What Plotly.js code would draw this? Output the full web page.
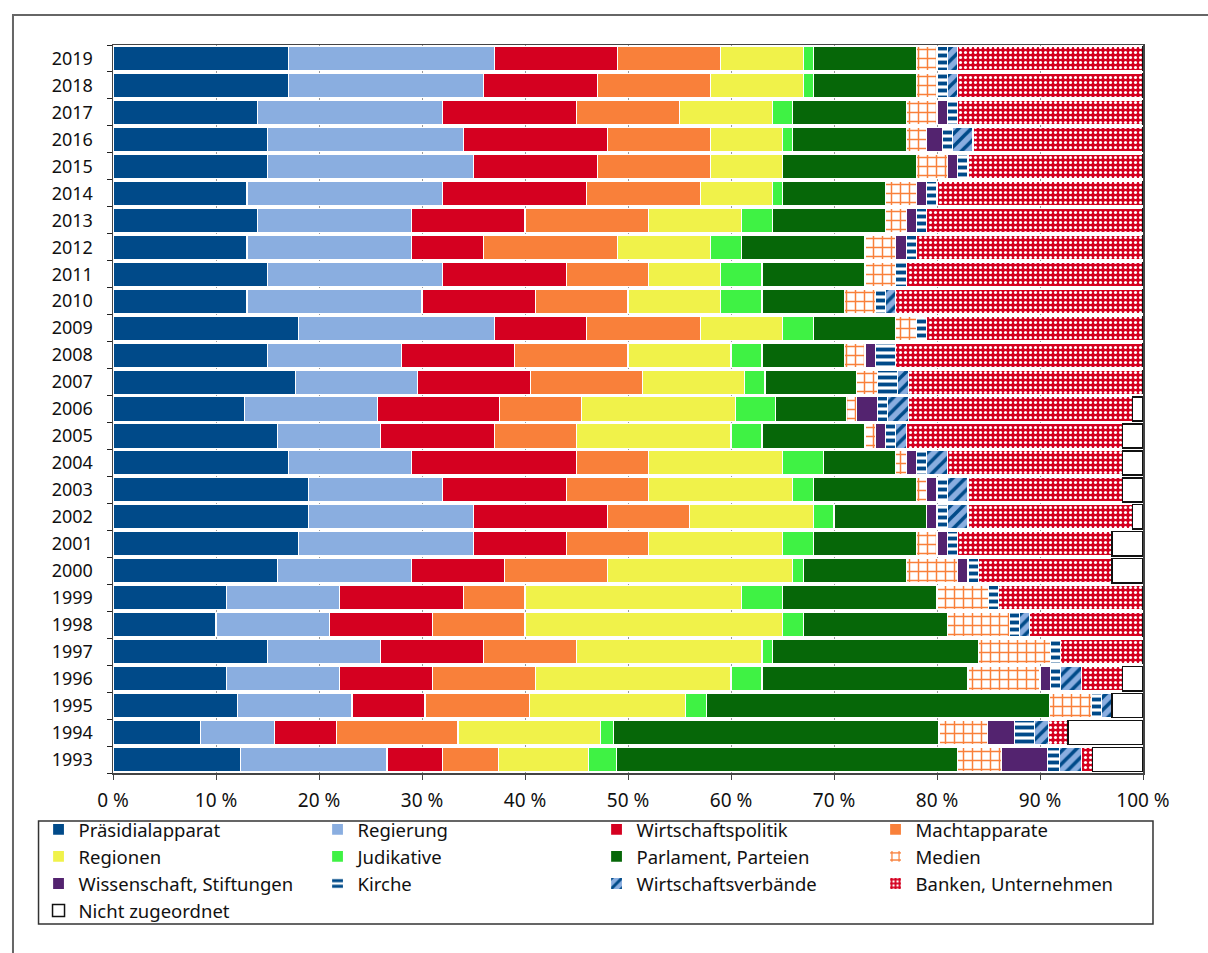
<!DOCTYPE html>
<html>
<head>
<meta charset="utf-8">
<script src="https://cdn.plot.ly/plotly-3.0.1.min.js"></script>
<style>
html,body{margin:0;padding:0;background:#fff;}
#chart{width:1208px;height:953px;}
</style>
</head>
<body>
<div id="chart"></div>
<script>
// Years (bottom to top)
const years = ['1993','1994','1995','1996','1997','1998','1999','2000','2001','2002','2003','2004','2005','2006','2007','2008','2009','2010','2011','2012','2013','2014','2015','2016','2017','2018','2019'];

// Shares in percent, 1993..2019
const praesidialapparat  = [12.4, 8.5, 12.1, 11, 15, 10, 11, 16, 18, 19, 19, 17, 16, 12.8, 17.7, 15, 18, 13, 15, 13, 14, 13, 15, 15, 14, 17, 17];
const regierung          = [14.2, 7.2, 11.1, 11, 11, 11, 11, 13, 17, 16, 13, 12, 10, 12.9, 11.9, 13, 19, 17, 17, 16, 15, 19, 20, 19, 18, 19, 20];
const wirtschaftspolitik = [5.4, 6.0, 7.1, 9, 10, 10, 12, 9, 9, 13, 12, 16, 11, 11.8, 10.9, 11, 9, 11, 12, 7, 11, 14, 12, 14, 13, 11, 12];
const machtapparate      = [5.4, 11.8, 10.1, 10, 9, 9, 6, 10, 8, 8, 8, 7, 8, 8, 10.9, 11, 11, 9, 8, 13, 12, 11, 11, 10, 10, 11, 10];
const regionen           = [8.8, 13.8, 15.2, 19, 18, 25, 21, 18, 13, 12, 14, 13, 15, 14.9, 9.9, 10, 8, 9, 7, 9, 9, 7, 7, 7, 9, 9, 8];
const judikative         = [2.7, 1.3, 2, 3, 1, 2, 4, 1, 3, 2, 2, 4, 3, 3.9, 2, 3, 3, 4, 4, 3, 3, 1, 0, 1, 2, 1, 1];
const parlament          = [33.1, 31.6, 33.3, 20, 20, 14, 15, 10, 10, 9, 10, 7, 10, 6.9, 8.9, 8, 8, 8, 10, 12, 11, 10, 13, 11, 11, 10, 10];
const medien             = [4.3, 4.7, 4.1, 7, 7, 6, 5, 5, 2, 0, 1, 1, 1, 1, 2, 2, 2, 3, 3, 3, 2, 3, 3, 2, 3, 2, 2];
const wissenschaft       = [4.4, 2.6, 0, 1, 0, 0, 0, 1, 1, 1, 1, 1, 1, 2, 0, 1, 0, 0, 0, 1, 1, 1, 1, 1.5, 1, 0, 0];
const kirche             = [1.2, 2.0, 1, 1, 1, 1, 1, 1, 1, 1, 1, 1, 1, 1, 2, 2, 1, 1, 1, 1, 1, 1, 1, 1, 1, 1, 1];
const wirtschaftsverb    = [2.1, 1.3, 1, 2, 0, 1, 0, 0, 0, 2, 2, 2, 1, 2, 1, 0, 0, 1, 0, 0, 0, 0, 0, 2, 0, 1, 1];
const banken             = [1.1, 1.9, 0, 4, 8, 11, 14, 13, 15, 16, 15, 17, 21, 21.8, 22.8, 24, 21, 24, 23, 22, 21, 20, 17, 16.5, 18, 18, 18];
const nichtZugeordnet    = [4.9, 7.3, 3, 2, 0, 0, 0, 3, 3, 1, 2, 2, 2, 1, 0, 0, 0, 0, 0, 0, 0, 0, 0, 0, 0, 0, 0];

const xTickVals = [0,10,20,30,40,50,60,70,80,90,100];
const xTickText = ['0 %','10 %','20 %','30 %','40 %','50 %','60 %','70 %','80 %','90 %','100 %'];

const NAVY = '#004a89', LBLUE = '#8aaee0', RED = '#d50020', ORANGE = '#f9803a',
      YELLOW = '#f0f24a', LGREEN = '#3ff244', DGREEN = '#066708', PURPLE = '#53236f';

const series = [
  {name:'Präsidialapparat', v:praesidialapparat, color:NAVY},
  {name:'Regierung', v:regierung, color:LBLUE},
  {name:'Wirtschaftspolitik', v:wirtschaftspolitik, color:RED},
  {name:'Machtapparate', v:machtapparate, color:ORANGE},
  {name:'Regionen', v:regionen, color:YELLOW},
  {name:'Judikative', v:judikative, color:LGREEN},
  {name:'Parlament, Parteien', v:parlament, color:DGREEN},
  {name:'Medien', v:medien, color:'#ffffff', pattern:{shape:'+', fgcolor:ORANGE, bgcolor:'#ffffff', size:9, solidity:0.3}},
  {name:'Wissenschaft, Stiftungen', v:wissenschaft, color:PURPLE},
  {name:'Kirche', v:kirche, color:'#ffffff', pattern:{shape:'-', fgcolor:NAVY, bgcolor:'#ffffff', size:7, solidity:0.55}},
  {name:'Wirtschaftsverbände', v:wirtschaftsverb, color:LBLUE, pattern:{shape:'/', fgcolor:NAVY, bgcolor:LBLUE, size:9, solidity:0.4}},
  {name:'Banken, Unternehmen', v:banken, color:RED, pattern:{shape:'.', fgcolor:'#ffffff', bgcolor:RED, size:5, solidity:0.3}},
  {name:'Nicht zugeordnet', v:nichtZugeordnet, color:'#ffffff', line:{color:'#111', width:1.5}}
];

const traces = series.map(s => {
  const marker = {color:s.color, line: s.line || {color:'#ffffff', width:1.2}};
  if (s.pattern) marker.pattern = s.pattern;
  return {type:'bar', orientation:'h', name:s.name, y:years, x:s.v, marker:marker, hoverinfo:'skip'};
});

const FONT = '"Noto Sans", "DejaVu Sans", sans-serif';
const layout = {
  width:1208, height:953,
  margin:{l:113, r:65, t:45, b:180},
  barmode:'stack', bargap:0.1,
  paper_bgcolor:'#ffffff', plot_bgcolor:'#ffffff',
  font:{family:FONT, size:18, color:'#111'},
  showlegend:true,
  legend:{orientation:'h', x:-0.0723, xanchor:'left', y:-0.052, yanchor:'top',
          traceorder:'normal', borderwidth:0, bgcolor:'rgba(0,0,0,0)',
          entrywidth:234, entrywidthmode:'pixels', itemwidth:30,
          font:{family:FONT, size:18.5, color:'#111'}, itemclick:false, itemdoubleclick:false},
  xaxis:{range:[0,100], tickvals:xTickVals, ticktext:xTickText, showgrid:true, gridcolor:'#999', gridwidth:1,
         zeroline:false, showline:true, mirror:true, linecolor:'#444', linewidth:1.5,
         ticks:'outside', ticklen:5, tickcolor:'#444', ticklabelstandoff:5, fixedrange:true,
         tickfont:{family:FONT, size:19, color:'#111'}},
  yaxis:{type:'category', categoryorder:'array', categoryarray:years, showgrid:false, zeroline:false,
         showline:true, mirror:true, linecolor:'#444', linewidth:1.5,
         ticks:'outside', tickson:'boundaries', ticklen:5, tickcolor:'#222', ticklabelstandoff:15, fixedrange:true,
         tickfont:{family:FONT, size:18, color:'#111'}},
  shapes:[
    {type:'rect', xref:'paper', yref:'paper', x0:-0.0971, x1:1.08, y0:-0.28, y1:1.0412,
     line:{color:'#666', width:2}, fillcolor:'rgba(0,0,0,0)', layer:'below'},
    {type:'rect', xref:'paper', yref:'paper', x0:-0.0723, x1:1.0097, y0:-0.2074, y1:-0.0659,
     line:{color:'#333', width:1.5}, fillcolor:'rgba(0,0,0,0)', layer:'below'}
  ]
};

Plotly.newPlot('chart', traces, layout, {displayModeBar:false, staticPlot:true});
</script>
</body>
</html>
